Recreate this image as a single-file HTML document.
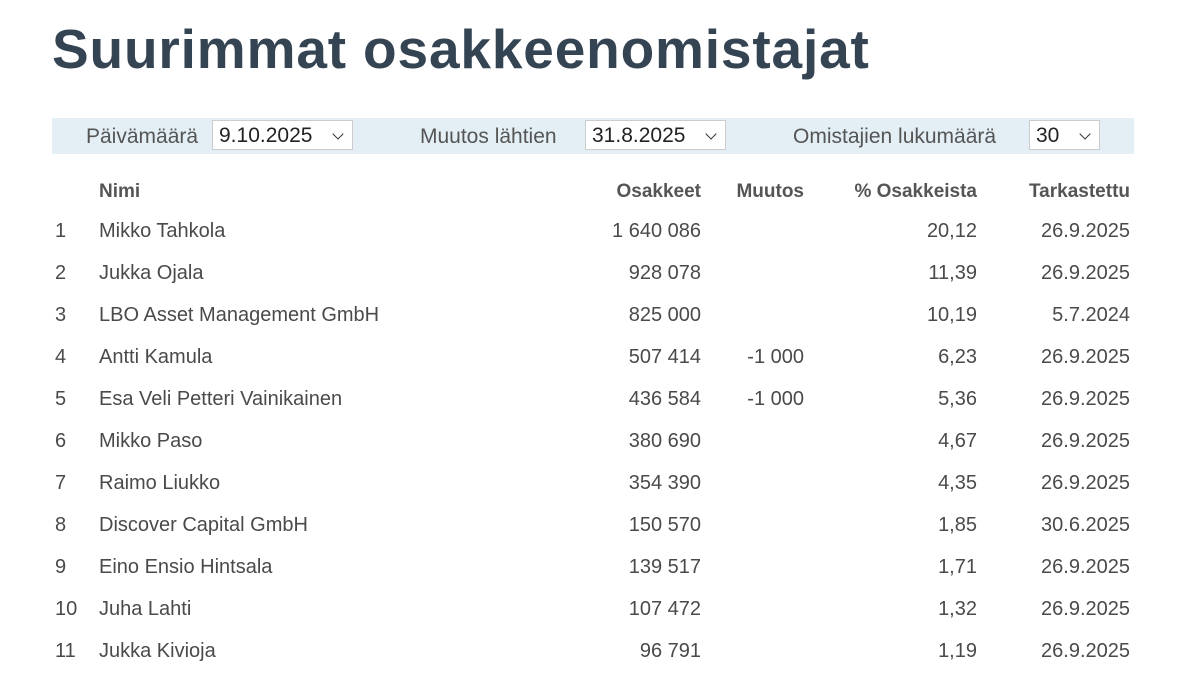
<!DOCTYPE html>
<html><head><meta charset="utf-8"><style>
body{margin:0;width:1196px;height:680px;background:#fff;font-family:"Liberation Sans",sans-serif;color:#4a4a4a;position:relative;overflow:hidden}
h1{position:absolute;left:52px;top:17px;margin:0;font-size:55px;font-weight:bold;color:#354453;letter-spacing:0.85px}
.band{position:absolute;left:52px;top:118px;width:1082px;height:36px;background:#e3eff4}
.lbl{position:absolute;top:125px;font-size:21px;color:#555}
.sel{position:absolute;top:120px;height:30px;background:#fff;border:1px solid #ccc;font-size:21px;color:#222;line-height:30px;padding-left:6px;box-sizing:border-box}
.sel::after{content:"";position:absolute;right:10px;top:9px;width:7px;height:7px;border-right:1.5px solid #333;border-bottom:1.5px solid #333;transform:rotate(45deg)}
.t{position:absolute;font-size:20px;white-space:nowrap;line-height:24px}
.h{font-weight:bold;color:#555;font-size:19px}
.r{text-align:right}
</style></head><body>
<h1>Suurimmat osakkeenomistajat</h1>
<div class="band"></div>
<div class="lbl" style="left:86px">Päivämäärä</div>
<div class="sel" style="left:212px;width:141px">9.10.2025</div>
<div class="lbl" style="left:420px">Muutos lähtien</div>
<div class="sel" style="left:585px;width:141px">31.8.2025</div>
<div class="lbl" style="left:793px">Omistajien lukumäärä</div>
<div class="sel" style="left:1029px;width:71px">30</div>
<div id="tbl"></div>
<script>
const rows=[["1","Mikko Tahkola","1 640 086","","20,12","26.9.2025"],["2","Jukka Ojala","928 078","","11,39","26.9.2025"],["3","LBO Asset Management GmbH","825 000","","10,19","5.7.2024"],["4","Antti Kamula","507 414","-1 000","6,23","26.9.2025"],["5","Esa Veli Petteri Vainikainen","436 584","-1 000","5,36","26.9.2025"],["6","Mikko Paso","380 690","","4,67","26.9.2025"],["7","Raimo Liukko","354 390","","4,35","26.9.2025"],["8","Discover Capital GmbH","150 570","","1,85","30.6.2025"],["9","Eino Ensio Hintsala","139 517","","1,71","26.9.2025"],["10","Juha Lahti","107 472","","1,32","26.9.2025"],["11","Jukka Kivioja","96 791","","1,19","26.9.2025"]];
let h='';
function cell(x,y,txt,right,cls){if(right)h+=`<div class="t r ${cls||''}" style="right:${1196-x}px;top:${y}px">${txt}</div>`;else h+=`<div class="t ${cls||''}" style="left:${x}px;top:${y}px">${txt}</div>`;}
let y0=180;cell(99,y0,"Nimi",0,"h");cell(701,y0,"Osakkeet",1,"h");cell(804,y0,"Muutos",1,"h");cell(977,y0,"% Osakkeista",1,"h");cell(1130,y0,"Tarkastettu",1,"h");
rows.forEach((r,i)=>{let y=219+i*42;cell(55,y,r[0]);cell(99,y,r[1]);cell(701,y,r[2],1);cell(804,y,r[3],1);cell(977,y,r[4],1);cell(1130,y,r[5],1);});
document.getElementById('tbl').innerHTML=h;
</script>
</body></html>
